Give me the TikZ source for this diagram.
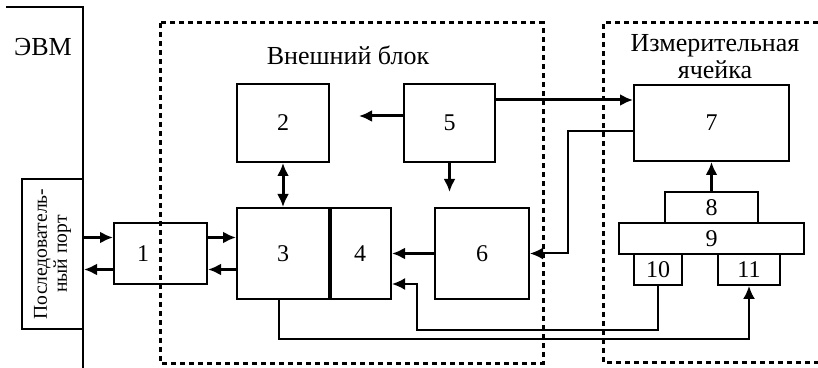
\documentclass[tikz,border=0pt]{standalone}
\usepackage{fontspec}
\setmainfont{Liberation Serif}
\usetikzlibrary{arrows.meta}
\tikzset{
	blok/.style={draw, line width=1pt, inner sep=0pt, font=\fontsize{12}{13}\selectfont},
	nadpis/.style={inner sep=0pt, font=\fontsize{13}{14}\selectfont},
	arr/.style={line width=1.5pt, -{Latex[length=6.5pt,width=6pt]}},
	arrt/.style={line width=1pt, -{Latex[length=6.5pt,width=6pt]}},
	ramka/.style={line width=1.5pt, dash pattern=on 2.5pt off 2pt},
}

\begin{document}
\begin{tikzpicture}[x=0.5pt,y=-0.5pt]
	%%%%% START %%%%%
	\useasboundingbox (0,0) rectangle (818,368);
	
	% EVM
	\draw[line width=1pt] (6,7) -- (83,7) -- (83,368);
	\node[nadpis] (evm) at (43,47) {ЭВМ};
	\node[blok, minimum width=75pt, minimum height=30.5pt, rotate=90, align=center,
		font=\fontsize{9.8}{10}\selectfont] (port) at (52.5,254) {Последователь-\\ный порт};
	
	% dashed frames
	\draw[ramka] (160,23) rectangle (543,363);
	\draw[ramka] (818,23) -- (603,23) -- (603,362) -- (818,362);
	\node[nadpis] (vb) at (348,55) {Внешний блок};
	\node[nadpis, align=center, font=\fontsize{13}{13.5}\selectfont] (ya) at (715,57) {Измерительная\\ячейка};
	
	% blocks
	\node[blok, minimum width=46.5pt, minimum height=30.5pt] (b1) at (160.5,253.5) {};
	\node[blok, draw=none] (b1t) at (143,253.5) {1};
	\node[blok, minimum width=46pt, minimum height=39pt] (b2) at (283,123) {2};
	\node[blok, minimum width=46pt, minimum height=45.5pt] (b3) at (283,253.5) {3};
	\node[blok, minimum width=31pt, minimum height=45.5pt] (b4) at (360,253.5) {4};
	\node[blok, minimum width=45.5pt, minimum height=39pt] (b5) at (449.5,123) {5};
	\node[blok, minimum width=47pt, minimum height=45.5pt] (b6) at (482,253.5) {6};
	\node[blok, minimum width=77.5pt, minimum height=38pt] (b7) at (711.5,123) {7};
	\node[blok, minimum width=46.5pt, minimum height=15.5pt] (b8) at (711.5,207.5) {8};
	\node[blok, minimum width=92.5pt, minimum height=15.5pt] (b9) at (711.5,238.5) {9};
	\node[blok, minimum width=24pt, minimum height=15.5pt] (b10) at (658,269.5) {10};
	\node[blok, minimum width=31pt, minimum height=15.5pt] (b11) at (749,269.5) {11};
	\draw[line width=1.5pt] (b3.north east) -- (b3.south east);
	
	% free ends
	\coordinate (p5l) at (359,116);
	\coordinate (p5d) at (449.5,192);
	
	% links
	\draw[arr] ([yshift=8pt]b1.west -| port.south) -- ([yshift=8pt]b1.west);
	\draw[arr] ([yshift=-8pt]b1.west) -- ([yshift=-8pt]b1.west -| port.south);
	\draw[arr] ([yshift=8pt]b1.east) -- ([yshift=8pt]b3.west);
	\draw[arr] ([yshift=-8pt]b3.west) -- ([yshift=-8pt]b1.east);
	\draw[arr, {Latex[length=6.5pt,width=6pt]}-{Latex[length=6.5pt,width=6pt]}] (b2.south) -- (b3.north);
	\draw[arr] (b5.west |- p5l) -- (p5l);
	\draw[arr] (b5.south) -- (p5d);
	\draw[arr] (b5.east |- 0,100) -- (b7.west |- 0,100);
	\draw[arr] (b6.west) -- (b4.east);
	\draw[arr] (b8.north) -- (b7.south);
	\draw[arrt] (b7.west |- 0,131) -| (568,253.5) -- (b6.east);
	\draw[arrt] (b10.south) |- (417,330) |- (b4.east |- 0,284);
	\draw[arrt] ([xshift=-2pt]b3.south) |- (749,339) -- (b11.south);
	
	%%%%% END %%%%%
\end{tikzpicture}
\end{document}
